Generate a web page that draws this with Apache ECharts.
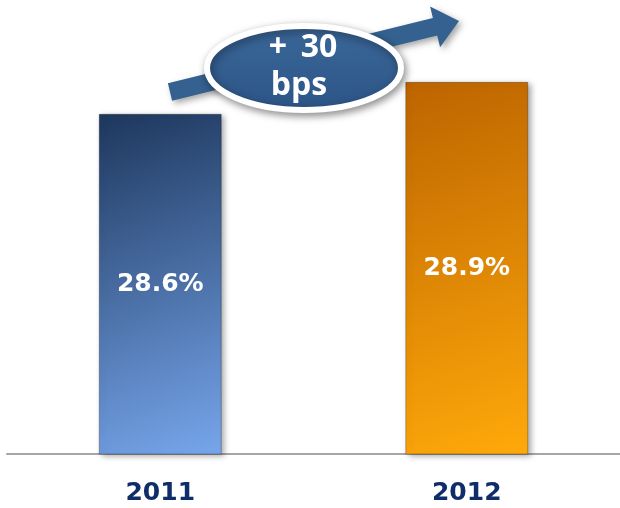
<!DOCTYPE html>
<html>
<head>
<meta charset="utf-8">
<script src="https://cdn.jsdelivr.net/npm/echarts@6/dist/echarts.min.js"></script>
<style>
html,body{margin:0;padding:0;background:#fff;}
#main{width:620px;height:508px;}
</style>
</head>
<body>
<div id="main"></div>
<script>
var years = ['2011', '2012'];
var margins = [28.6, 28.9];
var barColors = [['#1d375d', '#77a6ec'], ['#bd6400', '#ffa90a']];
var badgeLines = ['+\u2009 30', 'bps'];

var myChart = echarts.init(document.getElementById('main'));

var data = [];
for (var i = 0; i < margins.length; i++) {
	data.push({
		value: margins[i],
		itemStyle: {
			color: new echarts.graphic.LinearGradient(0, 0, 1, 1, [
				{offset: 0, color: barColors[i][0]},
				{offset: 1, color: barColors[i][1]}
			])
		}
	});
}

// arrow going up to the right, behind the badge
var arrowPts = [
	[167.9, 83.3], [172.1, 100.7], [437.2, 35.5], [440.1, 47.2],
	[459, 21], [430.1, 6.4], [432.9, 18.0]
];

option = {
	animation: false,
	grid: {left: 7, right: -5, top: 0, bottom: 54},
	xAxis: {
		type: 'category',
		data: years,
		axisLine: {lineStyle: {color: '#a6a6a6', width: 2}},
		axisTick: {show: false},
		axisLabel: {
			margin: 27,
			color: '#0f2d69',
			fontFamily: 'DejaVu Sans',
			fontWeight: 'bold',
			fontSize: 25
		}
	},
	yAxis: {
		type: 'value',
		min: 25.4,
		max: 29.67,
		show: false,
		splitLine: {show: false}
	},
	series: [{
		type: 'bar',
		barWidth: 123,
		data: data,
		itemStyle: {
			borderColor: 'rgba(0,0,0,0.25)',
			borderWidth: 1,
			shadowBlur: 6,
			shadowOffsetX: 3,
			shadowOffsetY: 2,
			shadowColor: 'rgba(0,0,0,0.35)'
		},
		label: {
			show: true,
			position: 'inside',
			formatter: function (p) { return p.value.toFixed(1) + '%'; },
			color: '#fff',
			fontFamily: 'DejaVu Sans',
			fontWeight: 'bold',
			fontSize: 25
		}
	}],
	graphic: [
		{
			type: 'polygon',
			shape: {points: arrowPts},
			style: {
				fill: '#34618f',
				shadowBlur: 6,
				shadowOffsetX: 3,
				shadowOffsetY: 3,
				shadowColor: 'rgba(0,0,0,0.35)'
			},
			z: 10
		},
		{
			type: 'ellipse',
			shape: {cx: 304, cy: 68, rx: 97, ry: 42},
			style: {
				fill: new echarts.graphic.LinearGradient(0, 0, 0, 1, [
					{offset: 0, color: '#3b6799'},
					{offset: 1, color: '#2c5587'}
				]),
				stroke: '#fff',
				lineWidth: 6,
				shadowBlur: 8,
				shadowOffsetX: 2,
				shadowOffsetY: 3,
				shadowColor: 'rgba(0,0,0,0.4)'
			},
			z: 11
		},
		{
			type: 'text',
			x: 303,
			y: 48,
			style: {
				text: badgeLines[0],
				align: 'center',
				verticalAlign: 'middle',
				fill: '#fff',
				fontFamily: 'Open Sans',
				fontWeight: 'bold',
				fontSize: 32
			},
			z: 12
		},
		{
			type: 'text',
			x: 299,
			y: 86,
			style: {
				text: badgeLines[1],
				align: 'center',
				verticalAlign: 'middle',
				fill: '#fff',
				fontFamily: 'Open Sans',
				fontWeight: 'bold',
				fontSize: 32
			},
			z: 12
		}
	]
};
myChart.setOption(option);
</script>
</body>
</html>
